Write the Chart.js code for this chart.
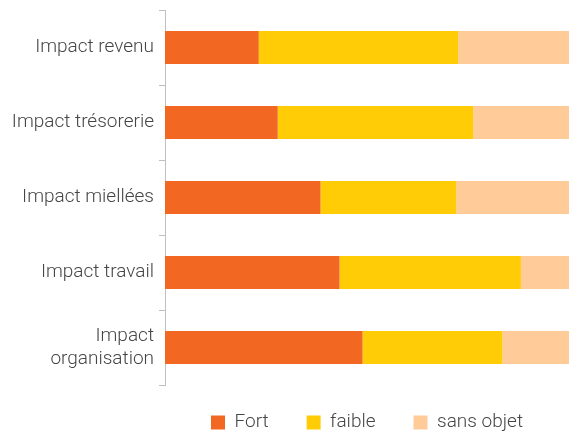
<!DOCTYPE html>
<html>
<head>
<meta charset="utf-8">
<script src="https://cdn.jsdelivr.net/npm/chart.js@4"></script>
<style>
  html, body { margin: 0; padding: 0; background: #fff; }
  #wrap { width: 569px; height: 434px; }
</style>
</head>
<body>
<div id="wrap"><canvas id="chart"></canvas></div>
<script>
const categories = ['Impact revenu', 'Impact trésorerie', 'Impact miellées', 'Impact travail', ['Impact', 'organisation']];
const fort = [23.2, 27.9, 38.5, 43.2, 48.9];
const faible = [49.4, 48.4, 33.6, 44.9, 34.6];
const sansObjet = [27.4, 23.7, 27.9, 11.9, 16.5];

const textFont = { family: 'Roboto', size: 19, weight: '300', lineHeight: 1.2 };

// legend: keep the 38px item gap but make the box shorter and lift the items a bit
const legendFix = {
  id: 'legendFix',
  beforeLayout(chart) {
    const legend = chart.legend;
    if (!legend || legend._patched) return;
    legend._patched = true;
    const fit = legend.fit;
    legend.fit = function () {
      fit.call(this);
      this.height = 49;
    };
    const draw = legend.draw;
    legend.draw = function () {
      const top = this.top;
      this.top = top - 10;
      draw.apply(this, arguments);
      this.top = top;
    };
  },
};

const ctx = document.getElementById('chart').getContext('2d');

const chart = new Chart(ctx, {
  type: 'bar',
  data: {
    labels: categories,
    datasets: [
      { label: 'Fort', data: fort, backgroundColor: '#F26722' },
      { label: 'faible', data: faible, backgroundColor: '#FFCC05' },
      { label: 'sans objet', data: sansObjet, backgroundColor: '#FECB99' },
    ],
  },
  plugins: [legendFix],
  options: {
    indexAxis: 'y',
    responsive: true,
    maintainAspectRatio: false,
    animation: false,
    layout: { padding: { top: 10, left: 0, right: 0, bottom: 0 } },
    datasets: {
      bar: { categoryPercentage: 1, barPercentage: 0.44 },
    },
    scales: {
      x: {
        stacked: true,
        min: 0,
        max: 100,
        display: false,
      },
      y: {
        stacked: true,
        border: { display: true, color: '#BFBFBF', width: 1 },
        grid: { drawOnChartArea: false, tickLength: 6, color: '#BFBFBF', offset: true },
        ticks: {
          color: '#454545',
          padding: 5,
          font: textFont,
        },
        afterFit: function (scale) {
          scale.width = 165;
          scale.paddingTop = 0;
          scale.paddingBottom = 0;
        },
      },
    },
    plugins: {
      legend: {
        position: 'bottom',
        fullSize: false,
        labels: {
          boxWidth: 14,
          boxHeight: 14,
          padding: 38,
          color: '#454545',
          font: textFont,
        },
      },
      tooltip: { enabled: false },
    },
  },
});
</script>
</body>
</html>
